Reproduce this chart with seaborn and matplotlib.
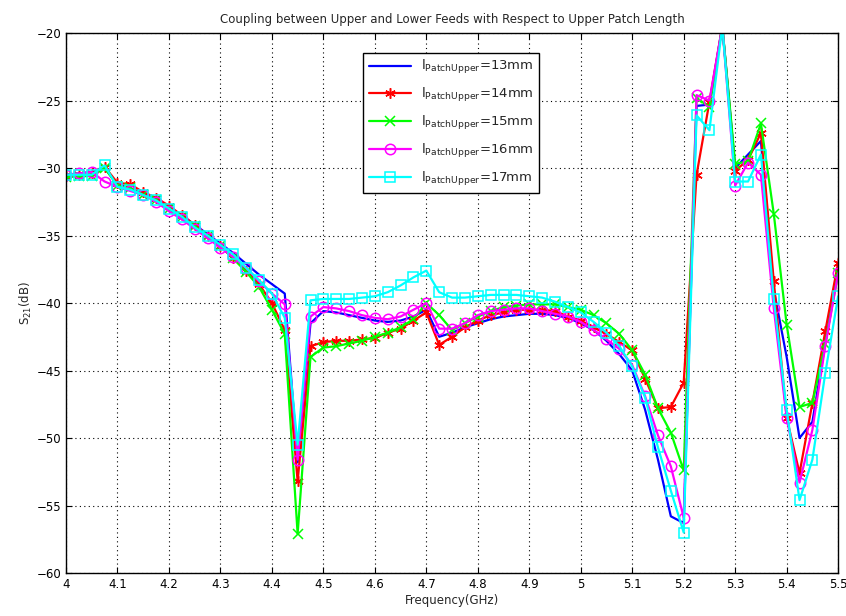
import numpy as np
import matplotlib
matplotlib.use("Agg")
import matplotlib.pyplot as plt
import seaborn as sns

# frequency grid (GHz), 25 MHz step
freq = np.linspace(4.0, 5.5, 61)

s21_13mm = [-30.5, -30.4, -30.3, -30.0, -31.2, -31.5, -31.9, -32.3, -32.9, -33.5,
            -34.2, -34.9, -35.6, -36.3, -37.1, -37.9, -38.6, -39.3, -51.8, -41.5,
            -40.6, -40.7, -40.9, -41.1, -41.3, -41.4, -41.3, -41.0, -40.5, -42.5,
            -42.2, -41.8, -41.5, -41.2, -41.0, -40.9, -40.8, -40.8, -40.9, -41.1,
            -41.5, -42.0, -42.8, -43.8, -45.0, -47.9, -51.6, -55.8, -56.3, -25.4,
            -25.3, -19.5, -30.0, -29.0, -28.0, -39.0, -44.0, -50.0, -48.8, -43.0,
            -37.5]
s21_14mm = [-30.6, -30.5, -30.4, -29.9, -31.1, -31.2, -31.8, -32.2, -32.8, -33.5,
            -34.2, -35.0, -35.8, -36.7, -37.6, -38.6, -40.0, -42.0, -53.2, -43.2,
            -42.9, -42.8, -42.8, -42.7, -42.6, -42.2, -41.9, -41.3, -40.7, -43.1,
            -42.5, -41.8, -41.3, -40.9, -40.7, -40.5, -40.5, -40.5, -40.6, -41.0,
            -41.3, -41.8, -42.3, -42.9, -43.5, -45.6, -47.8, -47.7, -45.9, -30.5,
            -25.1, -19.5, -30.2, -29.4, -27.4, -38.4, -48.5, -52.6, -47.4, -42.1,
            -37.0]
s21_15mm = [-30.7, -30.6, -30.6, -30.0, -31.3, -31.5, -32.0, -32.4, -33.0, -33.6,
            -34.3, -35.0, -35.8, -36.7, -37.7, -38.8, -40.5, -42.3, -57.1, -44.0,
            -43.3, -43.2, -43.0, -42.8, -42.5, -42.2, -41.8, -41.2, -40.0, -40.9,
            -42.0, -41.5, -41.0, -40.6, -40.3, -40.2, -40.1, -40.1, -40.1, -40.3,
            -40.5, -40.9, -41.5, -42.3, -43.5, -45.3, -47.8, -49.6, -52.4, -24.8,
            -25.5, -19.5, -29.7, -29.5, -26.7, -33.4, -41.6, -47.7, -47.4, -43.0,
            -37.8]
s21_16mm = [-30.5, -30.4, -30.3, -31.0, -31.4, -31.7, -32.0, -32.5, -33.2, -33.8,
            -34.5, -35.2, -35.9, -36.6, -37.4, -38.4, -39.3, -40.1, -51.6, -41.0,
            -40.3, -40.4, -40.6, -40.9, -41.1, -41.2, -41.0, -40.5, -40.0, -41.9,
            -41.9, -41.5, -40.9, -40.6, -40.5, -40.4, -40.4, -40.6, -40.8, -41.0,
            -41.4, -42.0, -42.7, -43.4, -44.6, -46.9, -49.8, -52.1, -55.9, -24.6,
            -25.0, -19.5, -31.3, -29.6, -30.5, -40.4, -48.5, -53.3, -49.4, -43.2,
            -37.8]
s21_17mm = [-30.5, -30.5, -30.5, -29.8, -31.4, -31.6, -32.0, -32.4, -33.0, -33.6,
            -34.4, -35.0, -35.7, -36.4, -37.4, -38.3, -39.3, -41.1, -50.5, -39.8,
            -39.7, -39.7, -39.7, -39.6, -39.5, -39.2, -38.7, -38.1, -37.6, -39.2,
            -39.6, -39.6, -39.5, -39.4, -39.4, -39.4, -39.5, -39.6, -39.9, -40.3,
            -40.7, -41.4, -42.2, -43.2, -44.7, -47.0, -50.7, -53.9, -57.0, -26.1,
            -27.2, -19.5, -31.0, -31.0, -29.0, -39.7, -47.9, -54.6, -51.6, -45.2,
            -39.5]

lengths = ["13", "14", "15", "16", "17"]
series = [s21_13mm, s21_14mm, s21_15mm, s21_16mm, s21_17mm]
colors = ["#0000ff", "#ff0000", "#00ff00", "#ff00ff", "#00ffff"]
markers = [None, (6, 2, 0), "x", "o", "s"]

xtick_vals = [4.0, 4.1, 4.2, 4.3, 4.4, 4.5, 4.6, 4.7, 4.8, 4.9, 5.0, 5.1, 5.2, 5.3, 5.4, 5.5]
xtick_labels = ["4", "4.1", "4.2", "4.3", "4.4", "4.5", "4.6", "4.7", "4.8", "4.9",
                "5", "5.1", "5.2", "5.3", "5.4", "5.5"]
ytick_vals = [-60, -55, -50, -45, -40, -35, -30, -25, -20]

sns.set_style("ticks")
plt.rcParams["font.family"] = ["DejaVu Sans"]
plt.rcParams["font.size"] = 8.5
plt.rcParams["mathtext.default"] = "regular"

fig = plt.figure(figsize=(8.46, 6.16), dpi=100)
ax = fig.add_axes([0.078, 0.0698, 0.9127, 0.8766])

for L, vals, c, m in zip(lengths, series, colors, markers):
    kw = dict(color=c, linewidth=1.6, label="$l_{PatchUpper}$=" + L + "mm")
    if m is not None:
        kw.update(marker=m, markersize=7.5, markerfacecolor="none",
                  markeredgecolor=c, markeredgewidth=1.1)
    sns.lineplot(x=freq, y=vals, ax=ax, **kw)

ax.set_xlim(4.0, 5.5)
ax.set_ylim(-60, -20)
ax.set_xticks(xtick_vals)
ax.set_xticklabels(xtick_labels)
ax.set_yticks(ytick_vals)
ax.grid(True, linestyle=(0, (1, 3)), color="black", linewidth=0.8)
ax.tick_params(direction="in", top=True, right=True, length=4, colors="black",
               labelsize=8.5)
for sp in ax.spines.values():
    sp.set_color("black")
    sp.set_linewidth(1)

ax.set_title("Coupling between Upper and Lower Feeds with Respect to Upper Patch Length",
             fontsize=8.5, pad=7)
ax.set_xlabel("Frequency(GHz)", fontsize=8.5, labelpad=2)
ax.set_ylabel("S$_{21}$(dB)", fontsize=8.5, labelpad=2)

leg = ax.legend(loc="upper left", bbox_to_anchor=(0.385, 0.963), frameon=True,
                fancybox=False, edgecolor="black", framealpha=1, fontsize=9.5,
                handlelength=3.2, borderaxespad=0, labelspacing=0.75)
leg.get_frame().set_linewidth(1)

fig.savefig("out.png", dpi=100)
